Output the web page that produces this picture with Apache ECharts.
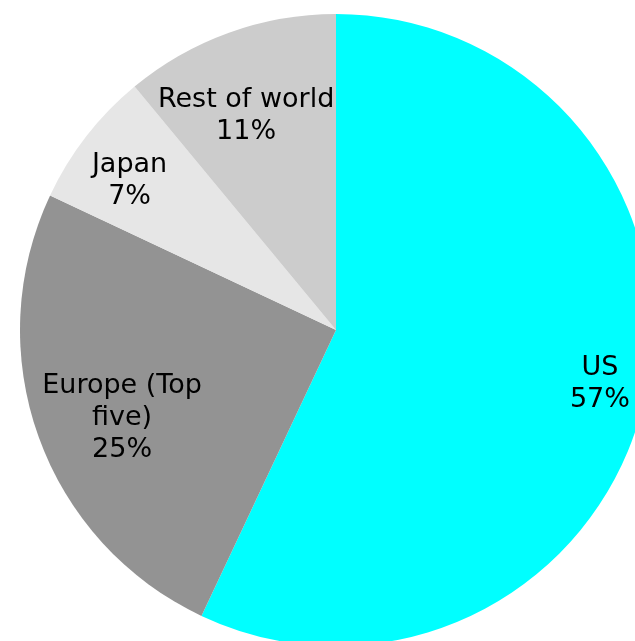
<!DOCTYPE html>
<html><head><meta charset="utf-8">
<script src="https://cdn.jsdelivr.net/npm/echarts@6/dist/echarts.min.js"></script>
<style>html,body{margin:0;padding:0;background:#fff}#c{width:635px;height:641px}</style>
</head><body><div id="c"></div>
<script>
const categories = ['US', 'Europe (Top\nfive)', 'Japan', 'Rest of world'];
const values = [57, 25, 7, 11];
const colors = ['#00FFFF', '#939393', '#E6E6E6', '#CCCCCC'];

// label placement (layout only): fraction of radius, and small angular nudge in degrees
const labelRadius = [0.844, 0.725, 0.792, 0.72];
const labelNudge = [0.7, 3.0, 2.4, 3.15];

const chart = echarts.init(document.getElementById('c'));
const R = 316;
const CENTER = [336, 330];
const LABEL_CENTER = [336, 328];
const series = [{
  type: 'pie', center: CENTER, radius: [0, R], startAngle: 90, clockwise: true,
  silent: true, label: { show: false }, labelLine: { show: false },
  data: categories.map((n, i) => ({ name: n, value: values[i], itemStyle: { color: colors[i] } }))
}];
categories.forEach((_, k) => {
  series.push({
    type: 'pie', center: LABEL_CENTER, radius: [0, R * 2 * labelRadius[k]], startAngle: 90 + labelNudge[k],
    clockwise: true, silent: true, z: 5, labelLine: { show: false },
    label: {
      show: true, position: 'inside', color: '#000', fontFamily: 'DejaVu Sans', fontSize: 27,
      lineHeight: 32, align: 'center',
      formatter: p => p.name + '\n' + p.value + '%'
    },
    data: categories.map((n, i) => ({
      name: n, value: values[i], itemStyle: { color: 'rgba(0,0,0,0)' }, label: { show: i === k }
    }))
  });
});
chart.setOption({ animation: false, series: series });
</script></body></html>
